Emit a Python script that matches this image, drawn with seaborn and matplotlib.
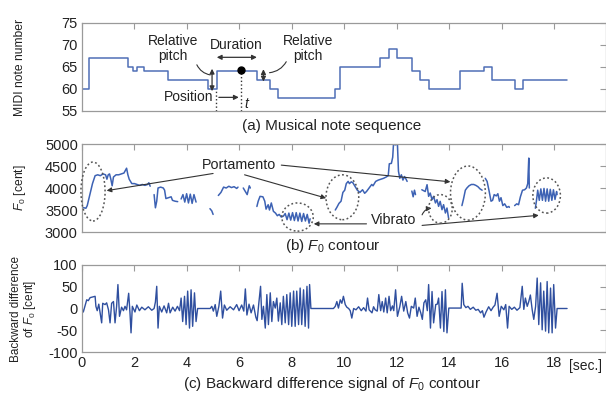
import numpy as np
import pandas as pd
import matplotlib
matplotlib.use("Agg")
import matplotlib.pyplot as plt
import seaborn as sns
from matplotlib.patches import Ellipse

# ---------------- data ----------------
# (a) musical note sequence: onset time [s] and MIDI pitch
note_onsets = [0.0, 0.28, 1.77, 1.93, 2.09, 2.37, 3.29, 4.82, 5.14, 6.67, 7.18, 7.49,
               9.66, 9.85, 11.37, 11.69, 12.01, 12.58, 12.90, 13.22, 14.43, 15.32,
               15.64, 16.53, 16.82, 18.5]
note_pitches = [60, 67, 65, 64, 65, 64, 62, 60, 64, 62, 60, 58,
                60, 65, 67, 69, 67, 64, 62, 60, 64, 65,
                62, 60, 62, 62]

# (b) F0 contour [cent]; NaN separates voiced segments
nan = np.nan
f0_time = [0.0, 0.15, 0.2, 0.3, 0.4, 0.5, 0.6, 0.7, 0.8, 0.9, 0.95, 1.0, 1.05, 1.1, 1.15, 1.2,
           1.3, 1.4, 1.5, 1.6, 1.7, 1.75, 1.8, 1.9, 2.0, 2.1, 2.2, 2.3, 2.4, 2.5, 2.55, 2.6, nan,
           2.75, 2.8, 2.85, 2.9, 3.0, 3.1, 3.15, 3.2, 3.3, 3.4, 3.45, 3.55, 3.65, nan,
           3.78, 3.85, 3.92, 3.99, 4.06, 4.13, 4.2, 4.27, 4.35, nan,
           4.88, 4.95, 5.0, nan,
           5.2, 5.3, 5.4, 5.5, 5.6, 5.7, 5.8, 5.9, 5.95, nan,
           6.15, 6.25, 6.3, 6.38, 6.42, nan,
           6.67, 6.72, 6.79, 6.9, 6.97, 7.02, 7.1, 7.15, 7.22, 7.3, 7.38, 7.45, 7.52, 7.6, 7.68,
           7.75, 7.82, 7.89, 7.96, 8.03, 8.1, 8.17, 8.24, 8.31, 8.38, 8.45, 8.52, 8.59, 8.66, 8.7, nan,
           9.66, 9.72, 9.8, 9.88, 9.95, 10.02, 10.08, 10.15, 10.2, 10.27, 10.33, 10.4, 10.5, 10.6,
           10.7, 10.78, 10.85, 10.95, 11.05, 11.1, 11.2, 11.3, 11.4, 11.5, 11.6, 11.68, 11.72, 11.8,
           11.85, 11.88, 11.95, 12.03, 12.07, 12.12, 12.18, 12.24, 12.3, 12.36, 12.4, nan,
           12.58, 12.63, 12.68, 12.72, nan,
           12.96, 13.09, 13.16, 13.22, 13.28, 13.35, 13.41, 13.48, 13.54, 13.6, 13.66, 13.73, 13.79,
           13.86, 13.92, 13.98, nan,
           14.49, 14.55, 14.62, 14.68, 14.76, 14.85, 14.94, 15.02, 15.1, 15.18, 15.26, nan,
           15.38, 15.45, 15.52, 15.6, 15.66, 15.72, 15.8, 15.86, 15.92, 15.98, 16.05, 16.12, 16.2,
           16.28, 16.3, nan,
           16.5, 16.58, 16.65, 16.72, 16.8, 16.88, 16.95, 17.0, 17.04, 17.06, nan,
           17.29, 17.33, 17.38, 17.44, 17.5, 17.56, 17.62, 17.68, 17.74, 17.8, 17.86, 17.92, 17.98,
           18.04, 18.1, 18.12]
f0_cent = [3560, 3540, 3600, 3850, 4100, 4280, 4300, 4280, 4320, 4300, 4200, 4300, 4320, 4200, 4050, 4250,
           4300, 4300, 4320, 4340, 4450, 4300, 4200, 4100, 4100, 4080, 4060, 4080, 4060, 4080, 4120, 4040, nan,
           3850, 3550, 3700, 4000, 4020, 4000, 3950, 3760, 3780, 3800, 3720, 3700, 3690, nan,
           3750, 3850, 3680, 3870, 3660, 3860, 3650, 3850, 3680, nan,
           3530, 3480, 3400, nan,
           3830, 3900, 4020, 4000, 4040, 4010, 4030, 3990, 4020, nan,
           4000, 3900, 3850, 4050, 4000, nan,
           3580, 3700, 3810, 3800, 3700, 3520, 3620, 3500, 3660, 3470, 3430, 3370, 3400, 3340, 3360,
           3420, 3280, 3430, 3270, 3440, 3260, 3440, 3250, 3430, 3240, 3420, 3250, 3400, 3200, 3300, nan,
           3500, 3560, 3650, 3700, 3900, 3950, 4100, 4150, 4100, 4140, 4120, 4050, 3950, 3900,
           3960, 3880, 3920, 4000, 4080, 4050, 4150, 4180, 4200, 4220, 4250, 4280, 4550, 4560,
           4700, 5000, 4980, 5000, 4380, 4220, 4300, 4180, 4260, 4200, 4150, nan,
           3930, 3800, 3950, 3850, nan,
           3960, 3920, 4075, 3810, 3886, 3735, 3810, 3660, 3735, 3583, 3697, 3507, 3621,
           3432, 3545, 3318, nan,
           3600, 3750, 3950, 4000, 4050, 4080, 4080, 4060, 4030, 3980, 3950, nan,
           4220, 4150, 3950, 3700, 3720, 3850, 3820, 3870, 3700, 3780, 3600, 3640, 3560,
           3580, 3560, nan,
           3600, 3640, 3620, 3800, 3950, 3960, 4000, 4100, 4680, 4000, nan,
           3540, 3700, 3950, 3720, 3980, 3720, 3990, 3700, 3980, 3700, 3970, 3720, 3960,
           3740, 3920, 3850]

# (c) backward difference of F0 [cent]
diff_time = [0.0, 0.05, 0.11, 0.18, 0.24, 0.31, 0.43, 0.5, 0.53, 0.58, 0.64, 0.69, 0.75, 0.79, 0.88,
             0.94, 1.01, 1.07, 1.13, 1.2, 1.26, 1.32, 1.37, 1.43, 1.51, 1.58, 1.64, 1.7, 1.78, 1.83,
             1.87, 1.92, 2.02, 2.09, 2.19, 2.28, 2.4, 2.53, 2.66, 2.75, 2.8, 2.85, 2.9, 2.95, 3.04,
             3.13, 3.23, 3.3, 3.36, 3.46, 3.55, 3.64, 3.72, 3.78, 3.84, 3.91, 3.97, 4.03, 4.1, 4.16,
             4.22, 4.29, 4.35, 4.41, 4.89, 4.95, 5.01, 5.08, 5.14, 5.22, 5.29, 5.36, 5.43, 5.52, 5.65,
             5.78, 5.84, 5.9, 5.99, 6.09, 6.17, 6.23, 6.29, 6.37, 6.45, 6.54, 6.63, 6.68, 6.74, 6.81,
             6.86, 6.92, 6.99, 7.05, 7.11, 7.18, 7.24, 7.3, 7.37, 7.43, 7.49, 7.56, 7.62, 7.68, 7.75,
             7.81, 7.88, 7.94, 8.0, 8.07, 8.13, 8.19, 8.26, 8.32, 8.38, 8.45, 8.51, 8.58, 8.64, 8.68,
             8.73, 9.59, 9.66, 9.72, 9.78, 9.85, 9.91, 9.97, 10.04, 10.1, 10.17, 10.23, 10.29, 10.36,
             10.45, 10.55, 10.65, 10.74, 10.83, 10.89, 10.95, 11.06, 11.12, 11.18, 11.26, 11.32, 11.39,
             11.45, 11.51, 11.58, 11.64, 11.71, 11.77, 11.84, 11.89, 11.96, 12.03, 12.12, 12.19, 12.27,
             12.35, 12.42, 12.49, 12.56, 12.65, 12.71, 12.78, 12.85, 12.92, 12.98, 13.04, 13.11, 13.17,
             13.22, 13.29, 13.35, 13.41, 13.49, 13.55, 13.6, 13.67, 13.73, 13.8, 13.86, 13.92, 13.99,
             14.46, 14.5, 14.56, 14.64, 14.72, 14.81, 14.92, 15.02, 15.11, 15.2, 15.27, 15.33, 15.41,
             15.51, 15.6, 15.68, 15.75, 15.83, 15.91, 15.99, 16.09, 16.16, 16.23, 16.29, 16.39, 16.49,
             16.59, 16.7, 16.79, 16.85, 16.91, 16.98, 17.04, 17.1, 17.17, 17.23, 17.3, 17.36, 17.42,
             17.49, 17.55, 17.61, 17.68, 17.74, 17.8, 17.87, 17.93, 17.99, 18.06, 18.12, 18.5]
diff_cent = [0, -8, 5, 20, 18, 25, 27, 28, 5, -5, 10, -10, -33, 12, 9,
             13, -3, -33, 12, 16, -33, 5, 55, -18, 3, -5, 5, -3, 35, -10,
             -56, 5, -8, 8, -5, 3, -3, 4, -4, 0, 15, 51, -45, 5, -8,
             6, -10, 12, -10, 3, -6, 5, -5, 24, -30, 28, -37, 40, -45, 43,
             -41, 36, -30, 0, 0, 5, -6, 9, -18, 5, 40, -22, 8, -4, 4,
             -3, 3, 9, -5, 8, -6, 45, -15, 10, -10, 8, -20, -28, 10, 51,
             -25, 5, -45, 32, -37, 36, -30, 16, 1, 24, -29, 13, -37, 28, -33,
             32, -37, 36, -41, 40, -41, 40, -37, 47, -37, 43, -41, 51, -45, 55,
             0, 0, 5, 16, 1, 20, 12, 28, 9, 3, 0, -5, -22, 0,
             -3, 4, -5, 2, -6, 24, -3, -10, 4, -3, -6, 32, -5,
             16, -8, 24, -10, 28, -5, 6, -5, 43, -18, 4, 28, -6,
             16, -10, -22, 5, 1, 24, -18, 3, -10, -25, 13, 20, -5,
             55, -45, 39, -33, 9, 10, 24, -45, 39, -53, 43, -56, 1,
             1, 58, 9, 2, 5, -2, 3, -4, -2, -10, -5, -20, -8,
             4, -5, 3, 8, 35, -18, 5, -3, 9, -45, 5, -2, 3,
             -4, 2, 51, -2, 24, 5, 16, 31, -3, -25, 5, 70, -37,
             59, -49, 40, -52, 62, -56, 47, -56, 55, -45, 0, 0]

x_ticks = [0, 2, 4, 6, 8, 10, 12, 14, 16, 18]

# ---------------- style ----------------
sns.set_theme(style="white")
plt.rcParams['font.family'] = ['Liberation Sans', 'DejaVu Sans']
plt.rcParams['mathtext.fontset'] = 'custom'
plt.rcParams['mathtext.rm'] = 'Liberation Sans'
plt.rcParams['mathtext.it'] = 'Liberation Sans:italic'
plt.rcParams['axes.unicode_minus'] = False

W, H = 606, 394
fig = plt.figure(figsize=(W / 100, H / 100), dpi=100)
fig.patch.set_facecolor('white')


def axes_px(l, t, r, b):
    return fig.add_axes([l / W, 1 - b / H, (r - l) / W, (b - t) / H])


ax_a = axes_px(82, 23, 606.4, 111)
ax_b = axes_px(82, 144, 606.4, 232)
ax_c = axes_px(82, 265, 606.4, 352)

GREY = '#9a9a9a'
TXT = '#222222'

# (a)
note_df = pd.DataFrame({'t': note_onsets, 'pitch': note_pitches})
sns.lineplot(data=note_df, x='t', y='pitch', ax=ax_a, drawstyle='steps-post',
             estimator=None, sort=False, color='#4f6fb6', lw=1.1)

# (b)
f0_df = pd.DataFrame({'t': f0_time, 'cent': f0_cent})
f0_df['seg'] = f0_df['cent'].isna().cumsum()
f0_df = f0_df.dropna()
sns.lineplot(data=f0_df, x='t', y='cent', units='seg', estimator=None, sort=False,
             ax=ax_b, color='#3d62b4', lw=1.1)

# (c)
d_df = pd.DataFrame({'t': diff_time, 'd': diff_cent})
sns.lineplot(data=d_df, x='t', y='d', estimator=None, sort=False, ax=ax_c,
             color='#2f4f9f', lw=1.0)

for ax, yl, yt in [(ax_a, (55, 75), [55, 60, 65, 70, 75]),
                   (ax_b, (3000, 5000), [3000, 3500, 4000, 4500, 5000]),
                   (ax_c, (-100, 100), [-100, -50, 0, 50, 100])]:
    ax.set_xlim(0, 20)
    ax.set_ylim(*yl)
    ax.set_xticks(x_ticks)
    ax.set_yticks(yt)
    ax.set_facecolor('white')
    ax.grid(False)
    for s in ax.spines.values():
        s.set_visible(True)
        s.set_color(GREY)
        s.set_linewidth(0.9)
    ax.tick_params(direction='in', length=4, width=0.8, color=GREY, top=True, right=True,
                   labelsize=10.5, labelcolor=TXT, pad=3)
    ax.set_xlabel('')

ax_a.tick_params(labelbottom=False)
ax_b.tick_params(labelbottom=False)

ax_a.set_ylabel('MIDI note number', fontsize=8.7, color=TXT)
ax_a.yaxis.set_label_coords(-0.107, 0.5)
ax_b.set_ylabel('$F_0$ [cent]', fontsize=8.7, color=TXT)
ax_b.yaxis.set_label_coords(-0.103, 0.5)
ax_c.set_ylabel('Backward difference\nof $F_0$ [cent]', fontsize=8.5, color=TXT, linespacing=1.0)
ax_c.yaxis.set_label_coords(-0.084, 0.5)

# captions
fig.text(332 / W, 1 - 126 / H, '(a) Musical note sequence', ha='center', va='center', fontsize=11, color=TXT)
fig.text(333 / W, 1 - 246 / H, '(b) $F_0$ contour', ha='center', va='center', fontsize=11, color=TXT)
fig.text(332 / W, 1 - 384 / H, '(c) Backward difference signal of $F_0$ contour', ha='center', va='center',
         fontsize=11, color=TXT)
fig.text(586 / W, 1 - 366 / H, '[sec.]', ha='center', va='center', fontsize=10, color=TXT)

# ---------------- annotations (a) ----------------
ACOL = '#333333'
dbl = dict(arrowstyle='<|-|>', color=ACOL, lw=0.9, mutation_scale=7, shrinkA=0, shrinkB=0)
one = dict(arrowstyle='-|>', color=ACOL, lw=0.9, mutation_scale=7, shrinkA=0, shrinkB=0)
plain = dict(arrowstyle='-', color=ACOL, lw=0.8, shrinkA=0, shrinkB=0,
             connectionstyle='arc3,rad=0.25')

ax_a.annotate('', xy=(4.96, 59.5), xytext=(4.96, 64.6), arrowprops=dbl)
ax_a.annotate('', xy=(6.92, 61.7), xytext=(6.92, 64.5), arrowprops=dbl)
ax_a.annotate('', xy=(5.14, 67.2), xytext=(6.67, 67.2), arrowprops=dbl)
ax_a.plot([5.12, 5.12], [55, 60], ls=':', color=ACOL, lw=1.0)
ax_a.plot([6.06, 6.06], [55, 64], ls=':', color=ACOL, lw=1.0)
ax_a.plot([6.06], [64.3], 'o', color='black', ms=5, zorder=5)
ax_a.text(3.48, 69.2, 'Relative\npitch', ha='center', va='center', fontsize=10, color=TXT, linespacing=1.15)
ax_a.text(8.63, 69.2, 'Relative\npitch', ha='center', va='center', fontsize=10, color=TXT, linespacing=1.15)
ax_a.text(5.9, 70.0, 'Duration', ha='center', va='center', fontsize=10, color=TXT)
ax_a.text(4.05, 58.2, 'Position', ha='center', va='center', fontsize=10, color=TXT)
ax_a.annotate('', xy=(5.98, 58.1), xytext=(5.22, 58.1), arrowprops=one)
ax_a.text(6.3, 56.5, '$t$', ha='center', va='center', fontsize=10, color=TXT)
ax_a.annotate('', xy=(4.89, 63.2), xytext=(4.38, 65.5), arrowprops=plain)
ax_a.annotate('', xy=(7.15, 63.7), xytext=(7.79, 66.2),
              arrowprops=dict(arrowstyle='-', color=ACOL, lw=0.8, shrinkA=0, shrinkB=0,
                              connectionstyle='arc3,rad=-0.25'))

# ---------------- annotations (b) ----------------
for cx, cy, w, h in [(0.42, 3920, 0.92, 1340), (8.22, 3340, 1.2, 640), (9.93, 3790, 1.25, 1020),
                     (13.67, 3525, 0.9, 650), (14.72, 3885, 1.33, 1230), (17.72, 3830, 1.05, 800)]:
    ax_b.add_patch(Ellipse((cx, cy), w, h, fill=False, ls=(0, (1.2, 1.6)), ec='#555555', lw=1.1,
                           clip_on=False, zorder=4))

barr = dict(arrowstyle='-|>', color=ACOL, lw=0.8, mutation_scale=7, shrinkA=0, shrinkB=0)
ax_b.text(6.0, 4520, 'Portamento', ha='center', va='center', fontsize=10.3, color=TXT)
ax_b.annotate('', xy=(0.94, 3940), xytext=(5.0, 4330), arrowprops=barr)
ax_b.annotate('', xy=(9.31, 3770), xytext=(6.2, 4300), arrowprops=barr)
ax_b.annotate('', xy=(14.05, 4140), xytext=(7.6, 4520), arrowprops=barr)
ax_b.text(11.88, 3265, 'Vibrato', ha='center', va='center', fontsize=10.3, color=TXT)
ax_b.annotate('', xy=(8.84, 3185), xytext=(10.85, 3185), arrowprops=barr)
ax_b.annotate('', xy=(13.33, 3540), xytext=(12.97, 3390),
              arrowprops=dict(barr, connectionstyle='arc3,rad=-0.3'))
ax_b.annotate('', xy=(17.42, 3379), xytext=(12.97, 3150), arrowprops=barr)

fig.savefig('out.png', dpi=100, facecolor='white')
